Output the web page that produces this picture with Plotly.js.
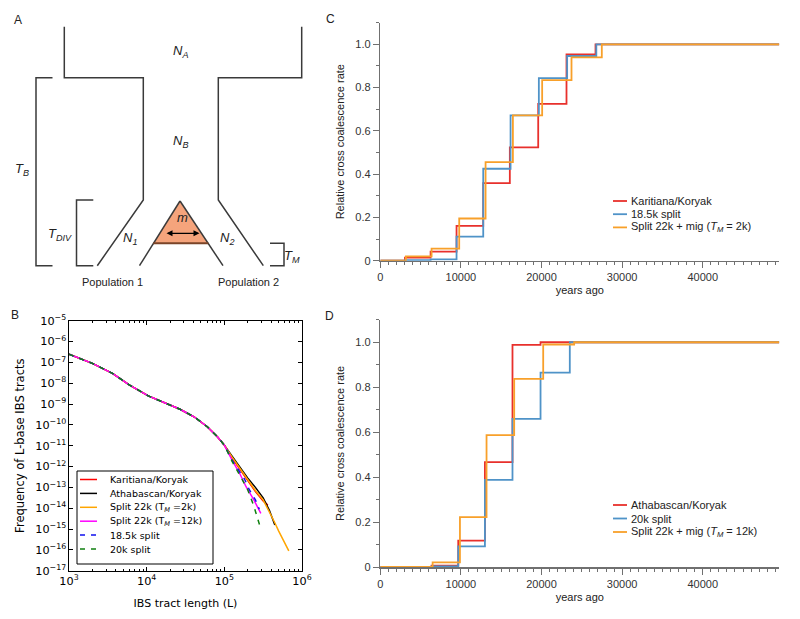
<!DOCTYPE html>
<html>
<head>
<meta charset="utf-8">
<script src="https://cdn.plot.ly/plotly-3.0.1.min.js"></script>
<style>body{margin:0;background:#fff}#fig{width:800px;height:619px}</style>
</head>
<body>
<div id="fig"></div>
<script>
// Panel B: spectrum of IBS tract lengths (L in bases, frequency per base)
// all curves share the same shape up to ~1e5, then fan out
let ibs_L_head = [1000, 2000, 3630, 6030, 10500, 16600, 26900, 40700, 60300, 81300, 100000];
let ibs_f_head = [2.45e-7, 8.9e-8, 2.95e-8, 8.1e-9, 2.45e-9, 1.15e-9, 5.6e-10, 2.45e-10, 8.1e-11, 2.7e-11, 1.07e-11];

let kar_L = [125900, 158500, 199500, 251200, 316200, 363100];
let kar_f = [2.51e-12, 7.1e-13, 2.0e-13, 6.3e-14, 2.24e-14, 1.41e-14];
let ath_L = [125900, 158500, 199500, 251200, 316200, 380200, 446700];
let ath_f = [3.16e-12, 8.9e-13, 2.82e-13, 1.0e-13, 3.16e-14, 7.9e-15, 1.58e-15];
let s2k_L = [125900, 158500, 199500, 251200, 316200, 380200, 446700, 501200, 676100];
let s2k_f = [2.82e-12, 7.9e-13, 2.24e-13, 7.1e-14, 2.51e-14, 7.1e-15, 2.0e-15, 7.9e-16, 8.9e-17];
let s12k_L = [125900, 158500, 190500, 239900, 295100];
let s12k_f = [2.0e-12, 4.5e-13, 1.07e-13, 2.51e-14, 5.6e-15];
let s185_L = [125900, 158500, 182000, 208900, 251200, 281800];
let s185_f = [2.0e-12, 5.0e-13, 2.51e-13, 7.9e-14, 2.51e-14, 8.9e-15];
let s20_L = [125900, 158500, 199500, 239900, 295100];
let s20_f = [1.78e-12, 3.55e-13, 7.9e-14, 1.26e-14, 1.0e-15];

// Panel C: relative cross coalescence rate (step starts, years ago)
let c_kar_t = [0, 3060, 6240, 9460, 12770, 16070, 19590, 23100, 26700, 49500];
let c_kar_r = [0, 0.014, 0.042, 0.161, 0.359, 0.524, 0.725, 0.954, 1.0, 1.0];
let c_185_t = [0, 3060, 6240, 9460, 12770, 16160, 19670, 23180, 26800, 49500];
let c_185_r = [0, 0.003, 0.006, 0.111, 0.425, 0.672, 0.844, 0.946, 1.0, 1.0];
let c_mig_t = [0, 3180, 6360, 9790, 13060, 16450, 20080, 23720, 27480, 49500];
let c_mig_r = [0, 0.02, 0.056, 0.195, 0.456, 0.672, 0.835, 0.94, 1.0, 1.0];

// Panel D
let d_ath_t = [0, 6360, 9670, 12980, 16400, 19880, 49500];
let d_ath_r = [0, 0.006, 0.117, 0.467, 0.988, 1.0, 1.0];
let d_20_t = [0, 6360, 9670, 12980, 16400, 19880, 23510, 49500];
let d_20_r = [0, 0.003, 0.092, 0.388, 0.659, 0.865, 1.0, 1.0];
let d_mig_t = [0, 6490, 9880, 13180, 16610, 20210, 24050, 49500];
let d_mig_r = [0, 0.021, 0.222, 0.587, 0.837, 0.99, 1.0, 1.0];

let yticks = [0, 0.2, 0.4, 0.6, 0.8, 1.0];
let yticktext = ['0', '0.2', '0.4', '0.6', '0.8', '1.0'];
let xticks = [0, 10000, 20000, 30000, 40000];
let xticktext = ['0', '10000', '20000', '30000', '40000'];

const W = 800, H = 619;
const px = x => x / W;
const py = y => 1 - y / H;
const SANS = 'Liberation Sans, Arial, sans-serif';
const MPL = 'DejaVu Sans, sans-serif';
const RED = '#e8302c', BLUE = '#4f93c8', ORANGE = '#f8a02a';

function ibs(name, L, f, color, dash) {
  return {x: ibs_L_head.concat(L), y: ibs_f_head.concat(f), name: name, type: 'scatter', mode: 'lines',
    line: {color: color, width: 1.5, dash: dash || 'solid'}, xaxis: 'x', yaxis: 'y'};
}
function step(name, t, r, color, ax) {
  return {x: t, y: r, name: name, type: 'scatter', mode: 'lines', line: {shape: 'hv', color: color, width: 1.8},
    xaxis: 'x' + ax, yaxis: 'y' + ax};
}

let tracesB = [
  ibs('Karitiana/Koryak', kar_L, kar_f, '#ff0000'),
  ibs('Athabascan/Koryak', ath_L, ath_f, '#000000'),
  ibs('Split 22k (T<sub><i>M</i></sub> =2k)', s2k_L, s2k_f, '#ffa500'),
  ibs('Split 22k (T<sub><i>M</i></sub> =12k)', s12k_L, s12k_f, '#ff00ff'),
  ibs('18.5k split', s185_L, s185_f, '#1010ee', '5px,6px'),
  ibs('20k split', s20_L, s20_f, '#108010', '5px,6px')
];
let tracesC = [
  step('Karitiana/Koryak', c_kar_t, c_kar_r, RED, 2),
  step('18.5k split', c_185_t, c_185_r, BLUE, 2),
  step('Split 22k + mig (<i>T<sub>M</sub></i> = 2k)', c_mig_t, c_mig_r, ORANGE, 2)
];
let tracesD = [
  step('Athabascan/Koryak', d_ath_t, d_ath_r, RED, 3),
  step('20k split', d_20_t, d_20_r, BLUE, 3),
  step('Split 22k + mig (<i>T<sub>M</sub></i> = 12k)', d_mig_t, d_mig_r, ORANGE, 3)
];

let shapes = [], annos = [];

// hand-made legends (tight row spacing like the original)
function legend(traces, x0, y0, dy, len, tx, font) {
  traces.forEach((tr, i) => {
    let y = y0 + i * dy;
    shapes.push({type: 'line', xref: 'paper', yref: 'paper', x0: px(x0), x1: px(x0 + len), y0: py(y), y1: py(y),
      line: {color: tr.line.color, width: tr.line.width, dash: tr.line.dash}});
    annos.push({xref: 'paper', yref: 'paper', x: px(tx), y: py(y), text: tr.name, showarrow: false,
      xanchor: 'left', yanchor: 'middle', font: font});
  });
}
shapes.push({type: 'rect', xref: 'paper', yref: 'paper', x0: px(77), x1: px(213), y0: py(471), y1: py(564),
  line: {color: '#000', width: 1}, fillcolor: '#fff'});
legend(tracesB, 80, 479.5, 13.9, 17, 108, {family: MPL, size: 9.5, color: '#000'});
legend(tracesC, 613, 201, 13.2, 14, 629, {family: SANS, size: 11, color: '#222'});
legend(tracesD, 613, 505, 13.5, 14, 629, {family: SANS, size: 11, color: '#222'});

// panel A: schematic of the split model (pixel coordinates)
function path(pts, close) {
  return pts.map((p, i) => (i ? 'L' : 'M') + px(p[0]).toFixed(5) + ',' + py(p[1]).toFixed(5)).join(' ') + (close ? ' Z' : '');
}
const ink = {color: '#3a3a3a', width: 1.5};
shapes.push({type: 'path', xref: 'paper', yref: 'paper', path: path([[180, 201], [153.3, 243.3], [208.3, 243.3]], true),
  fillcolor: '#f5a47c', line: {width: 0}});
[
  [[64.3, 26.7], [64.3, 77.7], [143.3, 77.7], [143.3, 200], [97.3, 265.7]],
  [[301.7, 26.7], [301.7, 77.7], [218.3, 77.7], [218.3, 200], [263.3, 265.7]],
  [[180, 201], [139.5, 265.7]],
  [[180, 201], [223, 265.7]],
  [[52.5, 77.7], [36, 77.7], [36, 265.7], [52.5, 265.7]],
  [[93.3, 200], [76.5, 200], [76.5, 265.7], [93.3, 265.7]],
  [[270, 243.3], [284, 243.3], [284, 265.7], [270, 265.7]]
].forEach(p => shapes.push({type: 'path', xref: 'paper', yref: 'paper', path: path(p), line: ink}));
shapes.push({type: 'line', xref: 'paper', yref: 'paper', x0: px(153.3), x1: px(208.3), y0: py(243.3), y1: py(243.3),
  line: {color: '#7a4428', width: 2}});
annos.push({xref: 'paper', yref: 'paper', x: px(199.5), y: py(233.3), ax: -34.5, ay: 0, text: '', showarrow: true,
  arrowside: 'end+start', arrowhead: 2, arrowsize: 1, arrowwidth: 1.2, arrowcolor: '#000'});

function label(x, y, text, size, family) {
  annos.push({xref: 'paper', yref: 'paper', x: px(x), y: py(y), text: text, showarrow: false,
    xanchor: 'center', yanchor: 'middle', font: {family: family || SANS, size: size || 12, color: '#222'}});
}
label(180, 52, '<i>N<sub>A</sub></i>', 13);
label(180, 141, '<i>N<sub>B</sub></i>', 13);
label(182, 218, '<i>m</i>', 13);
label(130, 239, '<i>N<sub>1</sub></i>', 13);
label(227, 238.5, '<i>N<sub>2</sub></i>', 13);
label(22, 169, '<i>T<sub>B</sub></i>', 13);
label(60, 234, '<i>T<sub>DIV</sub></i>', 13);
label(292, 256, '<i>T<sub>M</sub></i>', 13);
label(113, 282, 'Population 1', 11);
label(248.5, 282, 'Population 2', 11);
label(17.5, 20.5, 'A', 12);
label(15, 315, 'B', 12);
label(330.5, 19, 'C', 12);
label(329.5, 316, 'D', 12);

const greyAxis = {showline: true, linecolor: '#707070', linewidth: 1.5, ticks: 'outside', tickcolor: '#707070',
  tickwidth: 1, showgrid: false, zeroline: false, tickfont: {family: SANS, size: 11, color: '#333'}};
function xRate(anchor) {
  return Object.assign({}, greyAxis, {domain: [px(380.3), px(779.3)], range: [0, 49500], anchor: anchor,
    tickvals: xticks, ticktext: xticktext, ticklen: 6,
    minor: {dtick: 1000, tick0: 0, ticks: 'outside', ticklen: 3, tickcolor: '#707070', showgrid: false},
    title: {text: 'years ago', font: {family: SANS, size: 11, color: '#222'}, standoff: 4}});
}
function yRate(anchor, top, bottom) {
  return Object.assign({}, greyAxis, {domain: [py(bottom), py(top)], range: [0, 1.1], anchor: anchor,
    tickvals: yticks, ticktext: yticktext, ticklen: 6,
    minor: {dtick: 0.1, tick0: 0, ticks: 'outside', ticklen: 3, tickcolor: '#707070', showgrid: false},
    title: {text: 'Relative cross coalescence rate', font: {family: SANS, size: 11, color: '#222'}, standoff: 8}});
}
const boxAxis = {showline: true, linecolor: '#000', linewidth: 1, mirror: 'ticks', ticks: 'inside', ticklen: 4,
  tickcolor: '#000', showgrid: false, zeroline: false, type: 'log', dtick: 1, exponentformat: 'power',
  tickfont: {family: MPL, size: 9, color: '#000'}};

let layout = {
  width: W, height: H, margin: {l: 0, r: 0, t: 0, b: 0}, showlegend: false,
  paper_bgcolor: '#fff', plot_bgcolor: '#fff', font: {family: SANS, size: 11, color: '#222'},
  xaxis: Object.assign({}, boxAxis, {domain: [px(69), px(302)], range: [3, 6], anchor: 'y',
    minor: {dtick: 'D1', ticks: 'inside', ticklen: 2, tickcolor: '#000', showgrid: false},
    title: {text: 'IBS tract length (L)', font: {family: MPL, size: 11, color: '#000'}, standoff: 12}}),
  yaxis: Object.assign({}, boxAxis, {domain: [py(570.7), py(320.7)], range: [-17, -5], anchor: 'x',
    title: {text: 'Frequency of L-base IBS tracts', font: {family: MPL, size: 11.5, color: '#000'}, standoff: 8}}),
  xaxis2: xRate('y2'),
  yaxis2: yRate('x2', 22.7, 260.7),
  xaxis3: xRate('y3'),
  yaxis3: yRate('x3', 319.8, 567),
  shapes: shapes,
  annotations: annos
};

Plotly.newPlot('fig', tracesB.concat(tracesC, tracesD), layout, {displayModeBar: false, staticPlot: true});
</script>
</body>
</html>
